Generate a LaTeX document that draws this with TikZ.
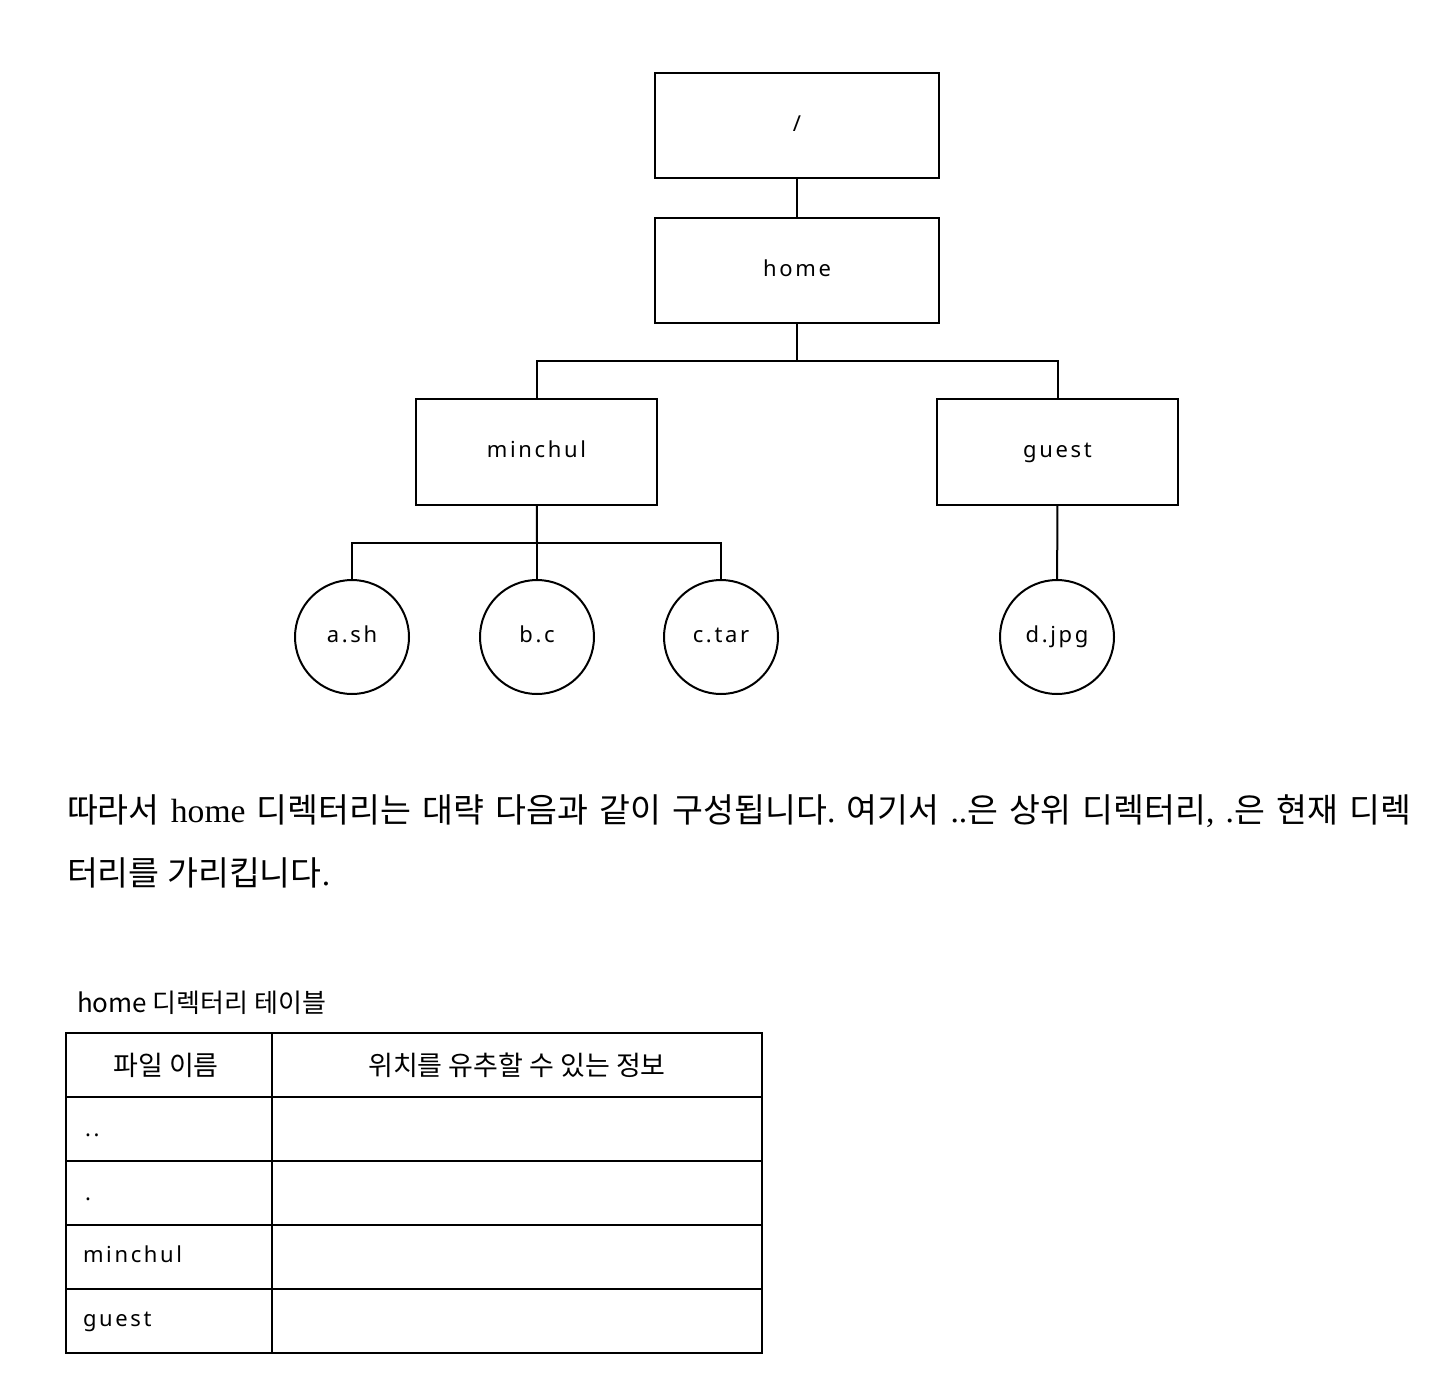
\documentclass[tikz,border=0pt]{standalone}
\usepackage{fontspec}
\setmainfont{Liberation Serif}
\newfontfamily\kr{Noto Sans CJK KR}
\newfontfamily\hand[LetterSpace=12]{Noto Sans}
\usetikzlibrary{calc}
\frenchspacing
\begin{document}
\begin{tikzpicture}[x=0.5pt,y=-0.5pt, line width=1pt,
  handtext/.style={font=\hand\fontsize{11}{13}\selectfont, text height=8pt, text depth=2.5pt},
  dirbox/.style={draw, rectangle, minimum width=142pt, minimum height=52.5pt, inner sep=0pt, handtext},
  subbox/.style={dirbox, minimum width=120.5pt, minimum height=53pt},
  filenode/.style={draw, circle, minimum size=57pt, inner sep=0pt, handtext},
  para/.style={anchor=base west, inner sep=0pt, font=\kr\fontsize{16.8}{19}\selectfont},
  cell/.style={inner sep=0pt, handtext},
  krcell/.style={inner sep=0pt, font=\kr\fontsize{13.5}{16}\selectfont},
  tbl/.style={line width=1pt}]
\useasboundingbox (0,0) rectangle (1434,1376);

% tree
\node[dirbox] (root) at (797,125.5) {/};
\node[dirbox] (home) at (797,270.5) {home};
\node[subbox] (minchul) at (536.5,452) {minchul};
\node[subbox] (guest) at (1057.5,452) {guest};
\node[filenode] (ash) at (352,637) {a.sh};
\node[filenode] (bc) at (537,637) {b.c};
\node[filenode] (ctar) at (721,637) {c.tar};
\node[filenode] (djpg) at (1057,637) {d.jpg};

\coordinate (hj) at (797,361);
\coordinate (mj) at (537,543);

\draw (root) -- (home);
\draw (home) -- (hj);
\draw (hj) -| (minchul);
\draw (hj) -| (guest);
\draw (minchul) -- (mj);
\draw (mj) -| (ash);
\draw (mj) -- (bc);
\draw (mj) -| (ctar);
\draw (guest) -- (djpg);

% paragraph
\node[para] (p1) at (66,822) {\makebox[672pt][s]{따라서 {\rmfamily home} 디렉터리는 대략 다음과 같이 구성됩니다{\rmfamily .} 여기서 {\rmfamily ..}은 상위 디렉터리{\rmfamily ,} {\rmfamily .}은 현재 디렉}};
\node[para] (p2) at (66,885) {터리를 가리킵니다{\rmfamily .}};

% table caption
\node[anchor=base west, inner sep=0pt, font=\kr\fontsize{13}{15}\selectfont] (cap) at (76,1012) {home 디렉터리 테이블};

% table
\draw[tbl] (66,1033) rectangle (762,1353);
\draw[tbl] (272,1033) -- (272,1353);
\foreach \yy in {1097,1161,1225,1289} \draw[tbl] (66,\yy) -- (762,\yy);

\node[krcell] (h1) at (166,1065) {파일 이름};
\node[krcell] (h2) at (517,1065) {위치를 유추할 수 있는 정보};
\node[cell, anchor=west] (r1) at (84,1131) {..};
\node[cell, anchor=west] (r2) at (84,1195) {.};
\node[cell, anchor=west] (r3) at (82,1257) {minchul};
\node[cell, anchor=west] (r4) at (82,1321) {guest};
\end{tikzpicture}
\end{document}
